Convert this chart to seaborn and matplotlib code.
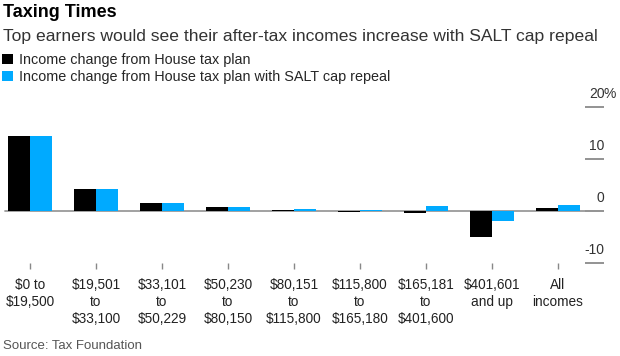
import pandas as pd
import seaborn as sns
import matplotlib.pyplot as plt
from matplotlib.patches import Patch

# income brackets (tick labels) and the two series, % change in after-tax income
brackets = [
    "$0 to\n$19,500",
    "$19,501\nto\n$33,100",
    "$33,101\nto\n$50,229",
    "$50,230\nto\n$80,150",
    "$80,151\nto\n$115,800",
    "$115,800\nto\n$165,180",
    "$165,181\nto\n$401,600",
    "$401,601\nand up",
    "All\nincomes",
]
house_plan = [14.5, 4.2, 1.5, 0.8, 0.2, -0.1, -0.4, -5.0, 0.5]
salt_repeal = [14.5, 4.2, 1.5, 0.7, 0.4, 0.2, 1.0, -1.9, 1.2]
series_names = ["Income change from House tax plan",
                "Income change from House tax plan with SALT cap repeal"]
colors = ["#000000", "#00aaff"]
yticks = [-10, 0, 10, 20]

df = pd.DataFrame({
    "bracket": brackets * 2,
    "change": house_plan + salt_repeal,
    "series": [series_names[0]] * len(brackets) + [series_names[1]] * len(brackets),
})

sns.set_style("white")
plt.rcParams["font.family"] = ["Liberation Sans", "DejaVu Sans"]

fig = plt.figure(figsize=(6.2, 3.56), dpi=100)
ax = fig.add_axes([0.0, 0.2612, 585 / 620, 0.4382])

sns.barplot(data=df, x="bracket", y="change", hue="series",
            palette=colors, width=0.68, gap=0, saturation=1,
            edgecolor="none", linewidth=0,
            legend=False, ax=ax, zorder=2)

ax.axhline(0, xmin=0.009, xmax=1.0, color="#9a9a9a", lw=1.3, zorder=1)
ax.set_xlim(-0.455, 8.41)
ax.set_ylim(-10, 20)
ax.set_xlabel("")
ax.set_ylabel("")
for s in ax.spines.values():
    s.set_visible(False)

ax.yaxis.tick_right()
ax.set_yticks(yticks)
ax.tick_params(axis="y", length=13.7, width=1.3, color="#8a8a8a",
               labelright=False, labelleft=False, right=True, left=False)
ax.tick_params(axis="x", length=4, width=1, color="#888888", pad=7,
               labelsize=9.8, labelcolor="#222222", bottom=True)
for lab in ax.get_xticklabels():
    lab.set_linespacing(1.28)
    lab.set_va("top")

# right side value labels sit above their tick marks
for v in yticks:
    ax.annotate(str(v), xy=(1.0, v), xycoords=("axes fraction", "data"),
                xytext=(14.2, 9.2), textcoords="offset points",
                ha="right", va="center", fontsize=10, color="#333333",
                annotation_clip=False)
ax.annotate("%", xy=(1.0, 20), xycoords=("axes fraction", "data"),
            xytext=(13.6, 9.2), textcoords="offset points",
            ha="left", va="center", fontsize=10, color="#333333",
            annotation_clip=False)

fig.text(0.005, 0.965, "Taxing Times", fontsize=13, fontweight="bold",
         color="#000000", va="center")
fig.text(0.005, 0.897, "Top earners would see their after-tax incomes increase with SALT cap repeal",
         fontsize=12.6, color="#333333", va="center")

handles = [Patch(facecolor=c, edgecolor="none") for c in colors]
fig.legend(handles, series_names, loc="upper left",
           bbox_to_anchor=(0.004, 0.852), frameon=False, fontsize=10.4,
           handlelength=0.7, handleheight=0.7, handletextpad=0.45,
           labelspacing=0.25, borderaxespad=0, borderpad=0)

fig.text(0.005, 0.028, "Source: Tax Foundation", fontsize=9.5,
         color="#555555", va="center")

fig.savefig("out.png", dpi=100, facecolor="white")
